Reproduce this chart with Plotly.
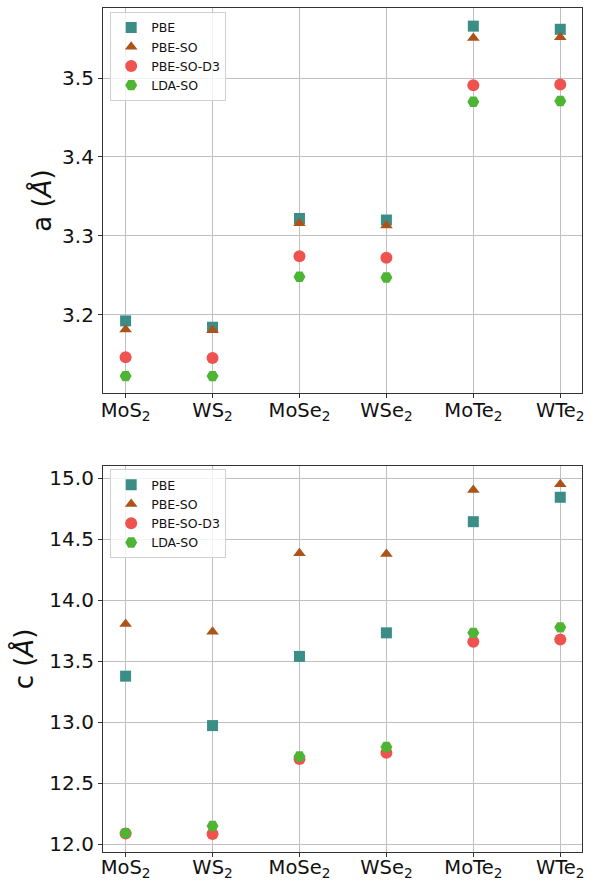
import plotly.graph_objects as go

materials = ["MoS<sub>2</sub>", "WS<sub>2</sub>", "MoSe<sub>2</sub>", "WSe<sub>2</sub>", "MoTe<sub>2</sub>", "WTe<sub>2</sub>"]
methods = ["PBE", "PBE-SO", "PBE-SO-D3", "LDA-SO"]

a_pbe = [3.192, 3.184, 3.322, 3.320, 3.566, 3.562]
a_pbe_so = [3.181, 3.180, 3.316, 3.313, 3.551, 3.552]
a_pbe_so_d3 = [3.146, 3.145, 3.274, 3.272, 3.491, 3.492]
a_lda_so = [3.122, 3.122, 3.248, 3.247, 3.470, 3.471]

c_pbe = [13.378, 12.973, 13.540, 13.733, 14.644, 14.844]
c_pbe_so = [13.805, 13.742, 14.385, 14.379, 14.904, 14.951]
c_pbe_so_d3 = [12.088, 12.085, 12.700, 12.750, 13.660, 13.679]
c_lda_so = [12.092, 12.150, 12.720, 12.798, 13.733, 13.778]

a_ticks = [3.2, 3.3, 3.4, 3.5]
c_ticks = [12.0, 12.5, 13.0, 13.5, 14.0, 14.5, 15.0]

colors = ["#3b8e86", "#ad5319", "#ef5350", "#4db533"]
symbols = ["square", "triangle-up", "circle", "hexagon2"]
sizes = [11, 11, 12, 12]

xs = list(range(len(materials)))
fig = go.Figure()

a_series = [a_pbe, a_pbe_so, a_pbe_so_d3, a_lda_so]
c_series = [c_pbe, c_pbe_so, c_pbe_so_d3, c_lda_so]

for i, name in enumerate(methods):
    fig.add_trace(go.Scatter(
        x=xs, y=a_series[i], mode="markers", name=name,
        marker=dict(symbol=symbols[i], color=colors[i], size=sizes[i], line=dict(width=0)),
        xaxis="x", yaxis="y", legend="legend"))
for i, name in enumerate(methods):
    fig.add_trace(go.Scatter(
        x=xs, y=c_series[i], mode="markers", name=name,
        marker=dict(symbol=symbols[i], color=colors[i], size=sizes[i], line=dict(width=0)),
        xaxis="x2", yaxis="y2", legend="legend2"))

font_family = "DejaVu Sans"
axis_common = dict(
    showgrid=True, gridcolor="#c0c0c0", gridwidth=1,
    showline=True, linecolor="#333333", linewidth=1.2, mirror=True,
    ticks="outside", ticklen=4, tickcolor="#333333",
    tickfont=dict(size=20, family=font_family, color="#111111"),
    zeroline=False, automargin=False,
)
xaxis_common = dict(axis_common, ticklen=4,
                    tickfont=dict(size=19.5, family=font_family, color="#111111"))

fig.update_layout(
    width=600, height=882,
    margin=dict(l=103, r=18, t=8, b=30),
    paper_bgcolor="white", plot_bgcolor="white",
    font=dict(family=font_family, color="#111111"),
    xaxis=dict(xaxis_common, domain=[0, 1], anchor="y", range=[-0.26, 5.25], ticklabelstandoff=-5,
               tickmode="array", tickvals=xs, ticktext=materials),
    yaxis=dict(axis_common, domain=[0.5438, 1.0], anchor="x", range=[3.1005, 3.589],
               tickmode="array", tickvals=a_ticks, ticktext=[f"{v:.1f}" for v in a_ticks],
               title=dict(text="a (<i>Å</i>)", font=dict(size=26, family=font_family), standoff=2)),
    xaxis2=dict(xaxis_common, domain=[0, 1], anchor="y2", range=[-0.26, 5.25], ticklabelstandoff=-7,
                tickmode="array", tickvals=xs, ticktext=materials),
    yaxis2=dict(axis_common, domain=[0.0, 0.4573], anchor="x2", range=[11.937, 15.10],
                tickmode="array", tickvals=c_ticks, ticktext=[f"{v:.1f}" for v in c_ticks],
                title=dict(text="c (<i>Å</i>)", font=dict(size=26, family=font_family), standoff=8)),
    legend=dict(x=0.015, y=0.9955, xanchor="left", yanchor="top",
                bgcolor="rgba(255,255,255,0.8)", bordercolor="#d0d0d0", borderwidth=1,
                font=dict(size=12.5, family=font_family), tracegroupgap=0, itemwidth=30),
    legend2=dict(x=0.015, y=0.4537, xanchor="left", yanchor="top",
                 bgcolor="rgba(255,255,255,0.8)", bordercolor="#d0d0d0", borderwidth=1,
                 font=dict(size=12.5, family=font_family), tracegroupgap=0, itemwidth=30),
)

fig.write_html("out.html", config={"displayModeBar": False},
               post_script="document.body.style.margin='0';")
